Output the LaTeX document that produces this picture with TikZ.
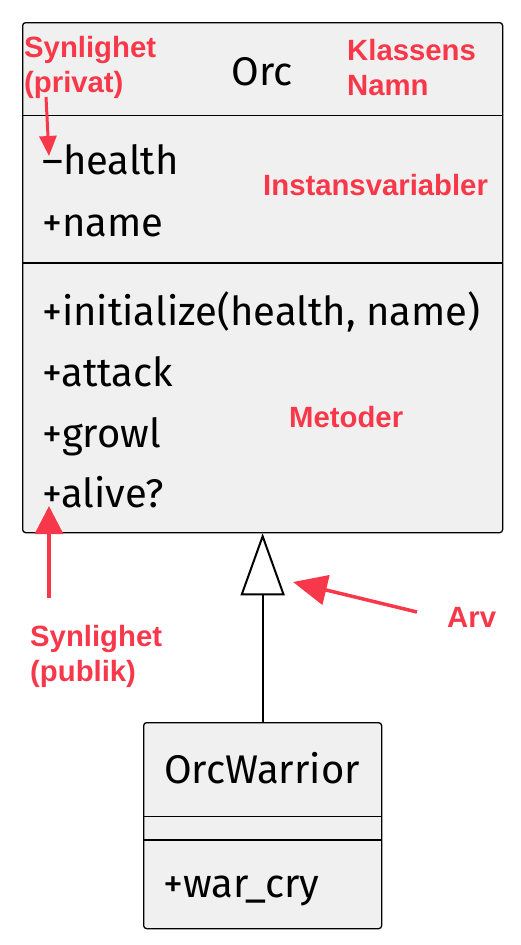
\documentclass[tikz,border=0pt]{standalone}
\usepackage{fontspec}
\setmainfont{Fira Sans}
\newfontfamily\notefont{Liberation Sans}
\usetikzlibrary{arrows.meta}
\definecolor{notered}{RGB}{247,56,74}
\definecolor{boxgray}{RGB}{240,240,240}

\begin{document}
\begin{tikzpicture}[x=1pt, y=-1pt]
	\tikzset{cls/.style={
		rectangle, draw=black, line width=1.3pt, fill=boxgray, rounded corners=3pt, inner sep=0pt, anchor=north west
	}}
	\tikzset{member/.style={
		anchor=base west, inner sep=0pt, font=\fontsize{40}{40}\selectfont
	}}
	\tikzset{title/.style={
		member, anchor=base
	}}
	\tikzset{note/.style={
		anchor=north west, inner sep=0pt, text=notered, align=left, font=\notefont\bfseries\fontsize{29.3}{35}\selectfont
	}}
	\tikzset{divider/.style={
		line width=1pt
	}}
	\tikzset{divider_thick/.style={
		line width=2pt
	}}
	\tikzset{pointer/.style={
		draw=notered, line width=3.5pt, -{Triangle[length=28pt, width=28pt]}
	}}
	\tikzset{inherit/.style={
		line width=2pt, -{Triangle[fill=white, length=62pt, width=44pt]}
	}}

	\useasboundingbox (0,0) rectangle (521,945);

	% Orc
	\node (Orc) [cls, minimum width=480pt, minimum height=510pt] at (22,22) {}
		% Name
		node (Orc_name) [title] at (262,85) {Orc}
		% Instansvariabler
		node (Orc_health) [member] at (42,174) {–health}
		node (Orc_namevar) [member] at (42,236) {+name}
		% Metoder
		node (Orc_initialize) [member] at (42,325) {+initialize(health, name)}
		node (Orc_attack) [member] at (42,386) {+attack}
		node (Orc_growl) [member] at (42,447) {+growl}
		node (Orc_alive) [member] at (42,507) {+alive?}
	;
	\draw[divider] ([yshift=-93pt] Orc.north west) -- ([yshift=-93pt] Orc.north east);
	\draw[divider_thick] ([yshift=-241pt] Orc.north west) -- ([yshift=-241pt] Orc.north east);

	% OrcWarrior
	\node (OrcWarrior) [cls, minimum width=238pt, minimum height=206pt] at (143,722) {}
		node (OrcWarrior_name) [title] at (262,783) {OrcWarrior}
		node (OrcWarrior_warcry) [member] at (163,897) {+war\_cry}
	;
	\draw[divider] ([yshift=-94pt] OrcWarrior.north west) -- ([yshift=-94pt] OrcWarrior.north east);
	\draw[divider_thick] ([yshift=-118pt] OrcWarrior.north west) -- ([yshift=-118pt] OrcWarrior.north east);

	% OrcWarrior -> Orc
	\draw[inherit] (OrcWarrior.north) -- (Orc.south);

	% Notes
	\node (note_privat) [note] at (24,36) {Synlighet\\(privat)};
	\node (note_klass) [note] at (347,39) {Klassens\\Namn};
	\node (note_instans) [note, anchor=base west] at (263,195) {Instansvariabler};
	\node (note_metoder) [note, anchor=base west] at (289,427) {Metoder};
	\node (note_arv) [note, anchor=base west] at (447,627) {Arv};
	\node (note_publik) [note] at (30,625) {Synlighet\\(publik)};

	% Pointers
	\coordinate (privat_from) at (46,97);
	\coordinate (privat_to) at (49,156);
	\coordinate (publik_from) at (49,598);
	\coordinate (publik_to) at (49,506);
	\coordinate (arv_from) at (417,612);
	\coordinate (arv_to) at (293,582);

	\draw[pointer, line width=3pt, -{Triangle[length=20pt, width=17pt]}] (privat_from) -- (privat_to);
	\draw[pointer] (publik_from) -- (publik_to);
	\draw[pointer, -{Triangle[length=34pt, width=30pt]}] (arv_from) -- (arv_to);
\end{tikzpicture}
\end{document}
